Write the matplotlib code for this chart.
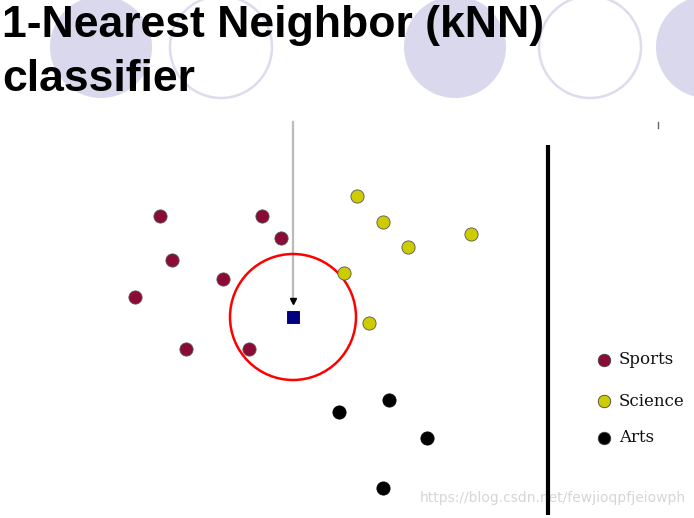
import matplotlib
matplotlib.use('Agg')
import matplotlib.pyplot as plt
import matplotlib.patches as patches

# diagram drawn in image pixel coordinates (x right, y down)
sports_x = [160, 262, 281, 172, 223, 135, 186, 249]
sports_y = [216, 216, 238, 260, 279, 297, 349, 349]
science_x = [357, 383, 408, 471, 344, 369]
science_y = [196, 222, 247, 234, 273, 323]
arts_x = [339, 389, 427, 383]
arts_y = [412, 400, 438, 488]
query_x = [293]
query_y = [317]
radius = 63

legend_labels = ['Sports', 'Science', 'Arts']
legend_colors = ['#8B0A36', '#CCCC00', '#000000']
legend_y = [360, 401, 438]

deco_x = [101, 221, 455, 590, 707]
deco_filled = [True, False, True, False, True]

title = '1-Nearest Neighbor (kNN)\nclassifier'
watermark = 'https://blog.csdn.net/fewjioqpfjeiowph'


def main():
	fig = plt.figure(figsize=(6.94, 5.18), dpi=100)
	ax = fig.add_axes([0, 0, 1, 1])
	ax.set_xlim(0, 694)
	ax.set_ylim(518, 0)
	ax.axis('off')

	# slide decoration circles
	for cx, filled in zip(deco_x, deco_filled):
		if filled:
			c = patches.Circle((cx, 47), 51, facecolor='#D9D8EC', edgecolor='none', zorder=0)
		else:
			c = patches.Circle((cx, 47), 51, facecolor='none', edgecolor='#DDDCEE', lw=1.8, zorder=0)
		ax.add_patch(c)

	title_lines = title.split('\n')
	ax.text(2, 37, title_lines[0], fontsize=32, fontweight='bold',
		family=['Liberation Sans', 'DejaVu Sans'], color='black', va='baseline', zorder=5)
	ax.text(2, 91, title_lines[1], fontsize=32, fontweight='bold',
		family=['Liberation Sans', 'DejaVu Sans'], color='black', va='baseline', zorder=5)

	ms = 9.5
	ax.plot(sports_x, sports_y, 'o', ms=ms, mfc='#8B0A36', mec='#555555', mew=0.6, zorder=3)
	ax.plot(science_x, science_y, 'o', ms=ms, mfc='#CCCC00', mec='#555555', mew=0.6, zorder=3)
	ax.plot(arts_x, arts_y, 'o', ms=ms, mfc='black', mec='black', mew=0.6, zorder=3)

	# query arrow
	ax.plot([query_x[0], query_x[0]], [122, 300], color='#BBBBBB', lw=1.6, zorder=2)
	ax.plot(query_x[0], 301, 'v', ms=4.5, color='black', zorder=3)
	ax.plot(query_x, query_y, 's', ms=9, mfc='#000080', mec='black', mew=0.6, zorder=3)

	ring = patches.Circle((query_x[0], query_y[0]), radius, facecolor='none', edgecolor='#FF0000', lw=1.8, zorder=2)
	ax.add_patch(ring)

	# divider
	ax.plot([548, 548], [145, 515], color='black', lw=3, solid_capstyle='butt', zorder=2)
	ax.plot([658, 658], [122, 128], color='#666666', lw=1, zorder=2)

	for lab, col, ly in zip(legend_labels, legend_colors, legend_y):
		ax.plot(604, ly, 'o', ms=9, mfc=col, mec='#444444', mew=0.6, zorder=3)
		ax.text(619, ly, lab, fontsize=12, family=['DejaVu Serif'], color='#111111', va='center', ha='left')

	ax.text(420, 498, watermark, fontsize=10, color='#D6D6D6', va='center', ha='left', zorder=1)

	fig.savefig('out.png', dpi=100)


if __name__ == '__main__':
	main()
